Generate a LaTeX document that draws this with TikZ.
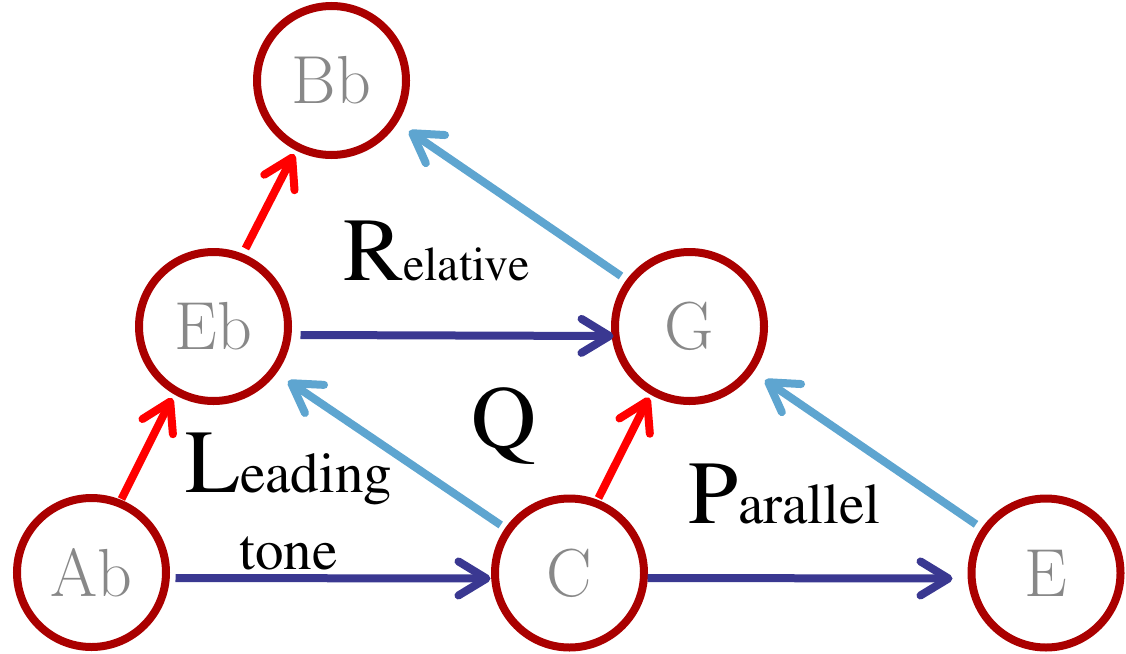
\documentclass[tikz,border=0pt]{standalone}
\usepackage[T1,TU]{fontenc}
\usetikzlibrary{arrows.meta}
\definecolor{ring}{RGB}{170,0,0}
\definecolor{redarr}{RGB}{255,0,0}
\definecolor{lblue}{RGB}{94,165,208}
\definecolor{dblue}{RGB}{58,56,145}
\definecolor{notegray}{RGB}{136,136,136}
\newcommand{\timesf}{\fontencoding{T1}\fontfamily{ptm}\selectfont}
\newcommand{\bigf}{\fontsize{90}{90}\selectfont}
\newcommand{\midf}{\fontsize{57}{57}\selectfont}
\newcommand{\smlf}{\fontsize{48}{48}\selectfont}
\begin{document}
\begin{tikzpicture}[x=1pt,y=-1pt,
  note/.style={circle,draw=ring,line width=8pt,minimum size=149pt,inner sep=0pt,
    text=notegray,font=\fontsize{68}{68}\selectfont},
  arr/.style={line width=8pt,-{Straight Barb[round,length=28pt,width=34pt]}},
  redline/.style={arr,draw=redarr},
  lbline/.style={arr,draw=lblue},
  dbline/.style={arr,draw=dblue},
  lbl/.style={inner sep=0pt,anchor=base west,text=black,font=\timesf}
]
\useasboundingbox (0,0) rectangle (1126,653);
\node[note] (Bb) at (331.5,80.5) {Bb};
\node[note] (Eb) at (213.5,326.5) {Eb};
\node[note] (G)  at (689.5,326.5) {G};
\node[note] (Ab) at (91.5,572.5) {Ab};
\node[note] (C)  at (569.5,573) {C};
\node[note] (E)  at (1046,573) {E};

% red arrows
\draw[redline] ([shift={(32,-78)}]Eb.center) -- ([shift={(-37.5,73.5)}]Bb.center);
\draw[redline] ([shift={(30,-73.5)}]Ab.center) -- ([shift={(-41.5,71.5)}]Eb.center);
\draw[redline] ([shift={(29,-75)}]C.center) -- ([shift={(-40.5,71)}]G.center);
% light blue arrows
\draw[lbline] ([shift={(-68.5,-50.5)}]G.center) -- ([shift={(77.5,50.5)}]Bb.center);
\draw[lbline] ([shift={(-68.8,-48)}]C.center) -- ([shift={(74.5,54.5)}]Eb.center);
\draw[lbline] ([shift={(-70,-48.7)}]E.center) -- ([shift={(75.5,53.5)}]G.center);
% dark blue arrows
\draw[dbline] ([shift={(87,8.5)}]Eb.center) -- ([shift={(-76,9.5)}]G.center);
\draw[dbline] ([shift={(84,5.5)}]Ab.center) -- ([shift={(-79,5.5)}]C.center);
\draw[dbline] ([shift={(78,5)}]C.center) -- ([shift={(-93.5,5.5)}]E.center);

% labels
\node[lbl] (rel) at (343,280) {{\bigf R}{\smlf elative}};
\node[lbl] (lead) at (185,492) {{\bigf L}{\midf eading}};
\node[lbl] (tone) at (239,569) {{\midf tone}};
\node[lbl] (q) at (471,448) {{\bigf Q}};
\node[lbl] (par) at (688,523) {{\bigf P}{\midf arallel}};
\end{tikzpicture}
\end{document}
